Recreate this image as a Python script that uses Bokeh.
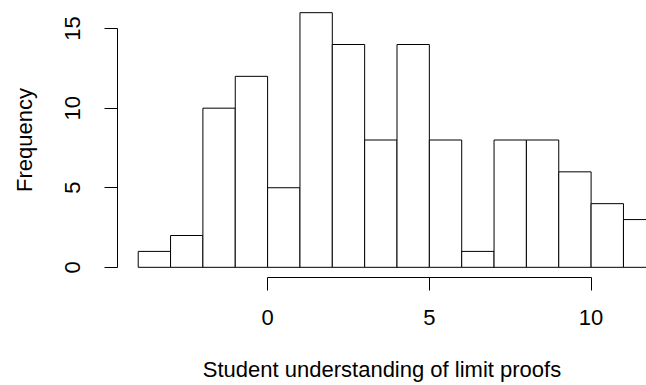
from bokeh.plotting import figure
from bokeh.models import Range1d, FixedTicker, ColumnDataSource
from bokeh.embed import file_html
from bokeh.resources import INLINE

# Data: histogram bins (width 1) and counts
bin_left = [-4, -3, -2, -1, 0, 1, 2, 3, 4, 5, 6, 7, 8, 9, 10, 11]
bin_right = [-3, -2, -1, 0, 1, 2, 3, 4, 5, 6, 7, 8, 9, 10, 11, 12]
counts = [1, 2, 10, 12, 5, 16, 14, 8, 14, 8, 1, 8, 8, 6, 4, 3]
x_ticks = [0, 5, 10]
y_ticks = [0, 5, 10, 15]
x_title = "Student understanding of limit proofs"
y_title = "Frequency"

FONT = "Liberation Sans"
FSIZE = "22px"

x0 = -4.64
px_per_x = 32.35
frame_w = 646 - 117
p = figure(width=646, height=385, output_backend="svg", toolbar_location=None,
           x_range=Range1d(x0, x0 + frame_w / px_per_x),
           y_range=Range1d(-0.64, 16.64),
           min_border_left=117, min_border_right=0,
           min_border_top=2, min_border_bottom=108)
p.outline_line_color = None
p.grid.visible = False
p.background_fill_color = "white"
p.border_fill_color = "white"

src = ColumnDataSource(dict(left=bin_left, right=bin_right, top=counts,
                            bottom=[0] * len(counts)))
p.quad(left="left", right="right", top="top", bottom="bottom", source=src,
       fill_color="white", line_color="black", line_width=1)

for ax in (p.xaxis[0], p.yaxis[0]):
    ax.major_tick_out = 13
    ax.major_tick_in = 0
    ax.minor_tick_out = 0
    ax.minor_tick_in = 0
    ax.axis_line_color = "black"
    ax.major_tick_line_color = "black"
    ax.major_label_text_font = FONT
    ax.major_label_text_font_size = FSIZE
    ax.major_label_text_color = "black"
    ax.axis_label_text_font = FONT
    ax.axis_label_text_font_size = FSIZE
    ax.axis_label_text_font_style = "normal"
    ax.axis_label_text_color = "black"

p.xaxis[0].ticker = FixedTicker(ticks=x_ticks)
p.xaxis[0].bounds = (x_ticks[0], x_ticks[-1])
p.xaxis[0].axis_label = x_title
p.xaxis[0].major_label_standoff = 19
p.xaxis[0].axis_label_standoff = 29

p.yaxis[0].ticker = FixedTicker(ticks=y_ticks)
p.yaxis[0].bounds = (y_ticks[0], y_ticks[-1])
p.yaxis[0].axis_label = y_title
p.yaxis[0].major_label_orientation = "parallel"
p.yaxis[0].major_label_standoff = 24
p.yaxis[0].axis_label_standoff = 26

open("out.html", "w").write(file_html(p, INLINE))
